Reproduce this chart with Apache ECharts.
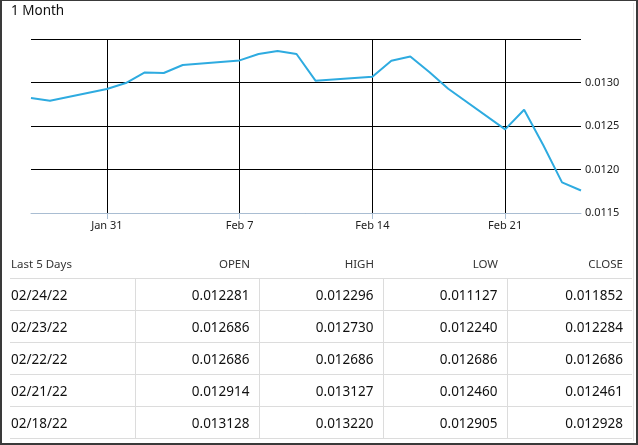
<!DOCTYPE html>
<html>
<head>
<meta charset="utf-8">
<script src="https://cdn.jsdelivr.net/npm/echarts@6/dist/echarts.min.js"></script>
<style>
  html, body { margin: 0; padding: 0; background: #fff; }
  #wrap { position: relative; width: 638px; height: 445px; box-sizing: border-box;
          border-left: 2px solid #3a3a3a; border-right: 2px solid #3a3a3a;
          border-bottom: 2px solid #3a3a3a; border-top: 1px solid #3a3a3a; overflow: hidden;
          font-family: "Noto Sans", sans-serif; }
  #chart { position: absolute; left: -2px; top: -1px; width: 638px; height: 250px; }
  #innerline { position: absolute; left: 631px; top: 2px; width: 1px; height: 438px; background: #e4e4e4; }
  #tbl { position: absolute; left: 8px; top: 247px; border-collapse: collapse; table-layout: fixed; }
  #tbl td, #tbl th { padding: 0 9px 0 0; text-align: right; white-space: nowrap; }
  #tbl th { font-weight: normal; font-size: 11.5px; color: #333; height: 30px; }
  #tbl td { font-size: 13.5px; color: #111; height: 31px; border-top: 1px solid #dcdcdc; }
  #tbl tr:last-child td { border-bottom: 1px solid #dcdcdc; }
  #tbl td + td { border-left: 1px solid #dcdcdc; }
  #tbl th:first-child, #tbl td:first-child { text-align: left; padding-left: 1px; }
</style>
</head>
<body>
<div id="wrap">
  <div id="chart"></div>
  <div id="innerline"></div>
  <table id="tbl"></table>
</div>
<script>
// ---- chart data ----
const titleText = '1 Month';
const days = ['Jan 27','Jan 28','Jan 29','Jan 30','Jan 31','Feb 1','Feb 2','Feb 3','Feb 4','Feb 5','Feb 6',
  'Feb 7','Feb 8','Feb 9','Feb 10','Feb 11','Feb 12','Feb 13','Feb 14','Feb 15','Feb 16','Feb 17','Feb 18',
  'Feb 19','Feb 20','Feb 21','Feb 22','Feb 23','Feb 24','Feb 25'];
const prices = [0.012822, 0.012791, null, null, 0.012925, 0.012994, 0.013116, 0.013109, 0.013201, null, null,
  0.013254, 0.013328, 0.013362, 0.013328, 0.013021, null, null, 0.013067, 0.013251, 0.013300, 0.013120, 0.012928,
  null, null, 0.012461, 0.012686, 0.012284, 0.011852, 0.011759];
const tickDays = ['Jan 31', 'Feb 7', 'Feb 14', 'Feb 21'];
const yMin = 0.0115, yMax = 0.0135, yStep = 0.0005;

// ---- table data ----
const tableHeaders = ['Last 5 Days', 'OPEN', 'HIGH', 'LOW', 'CLOSE'];
const tableDates = ['02/24/22', '02/23/22', '02/22/22', '02/21/22', '02/18/22'];
const openVals  = [0.012281, 0.012686, 0.012686, 0.012914, 0.013128];
const highVals  = [0.012296, 0.012730, 0.012686, 0.013127, 0.013220];
const lowVals   = [0.011127, 0.012240, 0.012686, 0.012460, 0.012905];
const closeVals = [0.011852, 0.012284, 0.012686, 0.012461, 0.012928];

const isTick = (i, v) => tickDays.indexOf(v) >= 0;
const FONT = '"Noto Sans", sans-serif';

const chart = echarts.init(document.getElementById('chart'), null, { renderer: 'canvas' });
chart.setOption({
  animation: false,
  title: { text: titleText, left: 11, top: 4, padding: 0,
    textStyle: { fontFamily: FONT, fontSize: 13.5, fontWeight: 'normal', color: '#111' } },
  grid: { left: 31, right: 57, top: 39, height: 174, containLabel: false },
  xAxis: {
    type: 'category', data: days, boundaryGap: false, z: 1,
    axisLine: { show: true, lineStyle: { color: '#a9bdd2', width: 1 } },
    axisTick: { show: true, interval: isTick, length: 6, lineStyle: { color: '#a9bdd2' } },
    axisLabel: { interval: isTick, color: '#222', fontSize: 11, fontFamily: FONT, margin: 7 },
    splitLine: { show: true, interval: isTick, lineStyle: { color: '#000', width: 1 } }
  },
  yAxis: {
    type: 'value', position: 'right', min: yMin, max: yMax, interval: yStep, z: 0,
    axisLine: { show: false }, axisTick: { show: false },
    axisLabel: { showMaxLabel: false, margin: 4, color: '#222', fontSize: 11, fontFamily: FONT,
      formatter: v => v.toFixed(4) },
    splitLine: { lineStyle: { color: '#000', width: 1 } }
  },
  series: [{
    type: 'line', data: prices, connectNulls: true, showSymbol: false, symbol: 'none',
    lineStyle: { color: '#2eabe0', width: 2 }, z: 3
  }]
});

// ---- table ----
const colW = [125, 124, 124, 124, 125];
const tbl = document.getElementById('tbl');
let html = '<colgroup>' + colW.map(w => '<col style="width:' + w + 'px">').join('') + '</colgroup>';
html += '<tr>' + tableHeaders.map(h => '<th>' + h + '</th>').join('') + '</tr>';
tableDates.forEach((d, i) => {
  html += '<tr><td>' + d + '</td>' +
    [openVals[i], highVals[i], lowVals[i], closeVals[i]].map(v => '<td>' + v.toFixed(6) + '</td>').join('') +
    '</tr>';
});
tbl.innerHTML = html;
</script>
</body>
</html>
